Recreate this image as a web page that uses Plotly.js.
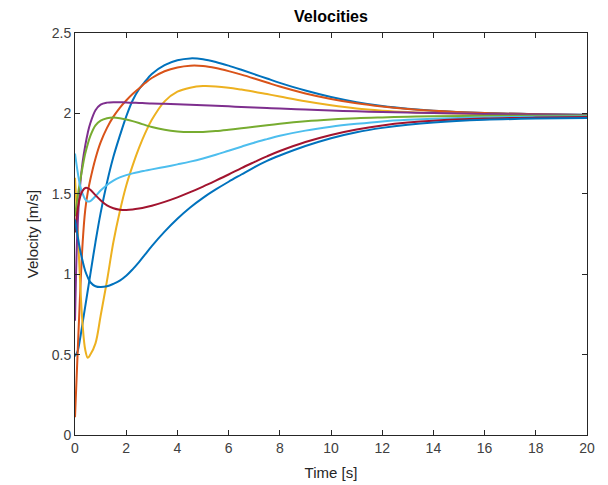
<!DOCTYPE html>
<html>
<head>
<meta charset="utf-8">
<script src="https://cdn.plot.ly/plotly-3.0.1.min.js"></script>
<style>html,body{margin:0;padding:0;background:#fff;}#chart{width:608px;height:485px;}</style>
</head>
<body>
<div id="chart"></div>
<script>
// Time samples [s]
const time = [0, 0.1, 0.2, 0.3, 0.4, 0.5, 0.6, 0.8, 1.0, 1.25, 1.5, 1.75, 2.0, 2.25, 2.5, 2.75, 3, 3.5, 4, 4.5, 5, 5.5, 6, 6.5, 7, 7.5, 8, 9, 10, 11, 12, 13, 14, 16, 18, 20];

// Velocity series [m/s]
const vBlue1  = [0.49, 0.52, 0.6, 0.7, 0.8, 0.9, 1.0, 1.2, 1.38, 1.57, 1.73, 1.86, 1.98, 2.08, 2.15, 2.2, 2.245, 2.3, 2.33, 2.342, 2.337, 2.32, 2.297, 2.271, 2.244, 2.217, 2.19, 2.142, 2.102, 2.07, 2.046, 2.029, 2.017, 2.003, 1.995, 1.991];
const vOrange = [0.11, 0.5, 0.88, 1.2, 1.4, 1.51, 1.59, 1.72, 1.82, 1.91, 1.98, 2.035, 2.08, 2.12, 2.155, 2.19, 2.22, 2.262, 2.286, 2.297, 2.295, 2.282, 2.263, 2.241, 2.217, 2.192, 2.167, 2.124, 2.09, 2.063, 2.043, 2.028, 2.017, 2.003, 1.995, 1.99];
const vYellow = [1.6, 1.3, 0.95, 0.68, 0.53, 0.48, 0.5, 0.57, 0.74, 0.96, 1.2, 1.39, 1.55, 1.675, 1.785, 1.88, 1.96, 2.075, 2.135, 2.16, 2.17, 2.168, 2.16, 2.148, 2.135, 2.12, 2.105, 2.075, 2.05, 2.03, 2.017, 2.008, 2.002, 1.995, 1.99, 1.988];
const vPurple = [0.71, 1.3, 1.55, 1.7, 1.8, 1.88, 1.94, 2.02, 2.055, 2.067, 2.07, 2.069, 2.068, 2.066, 2.065, 2.063, 2.062, 2.06, 2.057, 2.054, 2.05, 2.047, 2.044, 2.04, 2.037, 2.033, 2.03, 2.024, 2.018, 2.013, 2.009, 2.005, 2.002, 1.997, 1.993, 1.99];
const vGreen  = [1.36, 1.48, 1.58, 1.67, 1.75, 1.81, 1.86, 1.925, 1.955, 1.97, 1.974, 1.97, 1.962, 1.952, 1.94, 1.927, 1.915, 1.898, 1.888, 1.884, 1.885, 1.89, 1.898, 1.907, 1.917, 1.927, 1.936, 1.951, 1.962, 1.97, 1.975, 1.979, 1.982, 1.985, 1.986, 1.987];
const vLight  = [1.75, 1.64, 1.55, 1.5, 1.465, 1.452, 1.455, 1.485, 1.52, 1.555, 1.582, 1.602, 1.616, 1.627, 1.636, 1.644, 1.652, 1.667, 1.683, 1.7, 1.72, 1.743, 1.768, 1.793, 1.818, 1.84, 1.861, 1.893, 1.917, 1.935, 1.95, 1.96, 1.967, 1.975, 1.979, 1.981];
const vRed    = [1.26, 1.4, 1.48, 1.52, 1.536, 1.535, 1.525, 1.492, 1.46, 1.428, 1.41, 1.401, 1.399, 1.402, 1.408, 1.416, 1.426, 1.45, 1.478, 1.51, 1.545, 1.582, 1.62, 1.66, 1.697, 1.733, 1.766, 1.822, 1.866, 1.9, 1.925, 1.943, 1.955, 1.968, 1.974, 1.977];
const vBlue2  = [1.34, 1.24, 1.15, 1.08, 1.02, 0.98, 0.95, 0.925, 0.92, 0.925, 0.94, 0.96, 0.99, 1.03, 1.075, 1.125, 1.175, 1.265, 1.345, 1.415, 1.475, 1.527, 1.575, 1.62, 1.665, 1.705, 1.738, 1.797, 1.846, 1.883, 1.91, 1.93, 1.944, 1.96, 1.968, 1.972];

const seriesList = [vBlue1, vOrange, vYellow, vPurple, vGreen, vLight, vRed, vBlue2];
const colors = ['#0072BD', '#D95319', '#EDB120', '#7E2F8E', '#77AC30', '#4DBEEE', '#A2142F', '#0072BD'];

const traces = seriesList.map((v, i) => ({
  x: time, y: v, type: 'scatter', mode: 'lines',
  line: {color: colors[i], width: 2, shape: 'spline', smoothing: 1},
  showlegend: false, hoverinfo: 'skip'
}));

const fontFam = 'Liberation Sans, Arial, sans-serif';
const axisCommon = {
  showgrid: false, zeroline: false, showline: true, mirror: 'ticks',
  linecolor: '#262626', linewidth: 1, ticks: 'inside', ticklen: 5,
  tickcolor: '#262626', tickfont: {family: fontFam, size: 14, color: '#404040'}
};

const layout = {
  width: 608, height: 485,
  margin: {l: 75, r: 21, t: 33, b: 50},
  paper_bgcolor: '#fff', plot_bgcolor: '#fff',
  title: {text: '<b>Velocities</b>', x: 0.5, xref: 'paper', xanchor: 'center', y: 0.967, yref: 'container', yanchor: 'middle',
          font: {family: fontFam, size: 16, color: '#000'}},
  xaxis: Object.assign({}, axisCommon, {range: [0, 20], dtick: 2, tick0: 0,
    title: {text: 'Time [s]', standoff: 12, font: {family: fontFam, size: 15, color: '#262626'}}}),
  yaxis: Object.assign({}, axisCommon, {range: [0, 2.5], dtick: 0.5, tick0: 0,
    title: {text: 'Velocity [m/s]', standoff: 9, font: {family: fontFam, size: 15, color: '#262626'}}})
};

Plotly.newPlot('chart', traces, layout, {staticPlot: true, displayModeBar: false});
</script>
</body>
</html>
